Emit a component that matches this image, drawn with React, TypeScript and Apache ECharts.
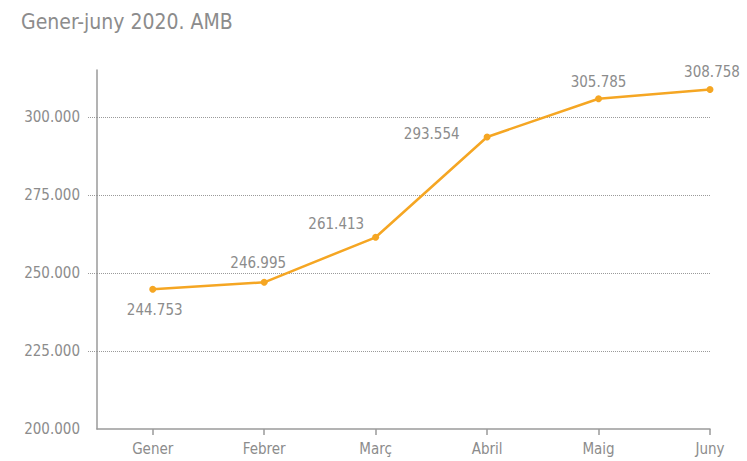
import React, { useEffect, useRef } from "react";
import * as echarts from "echarts";

const title = "Gener-juny 2020. AMB";
const categories = ["Gener", "Febrer", "Març", "Abril", "Maig", "Juny"];
const values = [244753, 246995, 261413, 293554, 305785, 308758];
const yLabelValues = [200000, 225000, 250000, 275000, 300000];
const yTickValues = [225000, 250000, 275000, 300000];

const FONT = "'Liberation Sans Narrow', 'DejaVu Sans Condensed', 'Roboto', sans-serif";

function fmt(v: number): string {
  const th = Math.floor(v / 1000);
  const rest = String(Math.round(v % 1000)).padStart(3, "0");
  return th + "." + rest;
}

const labelPlacement: any[] = [
  { position: "bottom", distance: 10, offset: [2, 0] },
  { position: "top", distance: 8, offset: [-6, 0] },
  { position: "left", distance: 8, offset: [0, -13] },
  { position: "left", distance: 24, offset: [0, -3] },
  { position: "top", distance: 6, offset: [0, 0] },
  { position: "top", distance: 6, offset: [2, 0] },
];

const gridStyle = { color: "#9a9a9a", type: [1, 1] as any, width: 1 };

export default function App() {
  const ref = useRef<HTMLDivElement>(null);
  useEffect(() => {
    if (!ref.current) return;
    const chart = echarts.init(ref.current, null, { renderer: "svg" });
    chart.setOption({
      animation: false,
      backgroundColor: "#ffffff",
      title: {
        text: title,
        left: 16,
        top: 6,
        textStyle: { fontFamily: FONT, fontSize: 21, fontWeight: "normal", color: "#8c8c8c" },
      },
      grid: { left: 97, right: 37, top: 70, bottom: 32, containLabel: false },
      xAxis: {
        type: "value",
        min: -0.5,
        max: 5,
        splitLine: { show: false },
        axisLine: { show: true, onZero: false, lineStyle: { color: "#9a9a9a", width: 1.5 } },
        axisTick: { show: true, customValues: [0, 1, 2, 3, 4, 5], length: 6, lineStyle: { color: "#9a9a9a", width: 1.5 } },
        axisLabel: {
          customValues: [0, 1, 2, 3, 4, 5],
          formatter: (v: number) => categories[Math.round(v)] ?? "",
          color: "#8c8c8c",
          fontFamily: FONT,
          fontSize: 15,
          margin: 12,
        },
      },
      yAxis: {
        type: "value",
        min: 200000,
        max: 315000,
        interval: 25000,
        axisLine: { show: true, onZero: false, lineStyle: { color: "#9a9a9a", width: 1.5 } },
        axisTick: { show: true, customValues: yTickValues, length: 9, lineStyle: gridStyle },
        splitLine: { show: true, interval: 0, lineStyle: gridStyle },
        axisLabel: {
          customValues: yLabelValues,
          formatter: (v: number) => fmt(v),
          color: "#8c8c8c",
          fontFamily: FONT,
          fontSize: 15,
          margin: 17,
        },
      },
      series: [
        {
          type: "line",
          data: values.map((v, i) => ({
            value: [i, v],
            label: {
              show: true,
              formatter: fmt(v),
              position: labelPlacement[i].position,
              distance: labelPlacement[i].distance,
              offset: labelPlacement[i].offset,
              color: "#8c8c8c",
              fontFamily: FONT,
              fontSize: 15,
            },
          })),
          symbol: "circle",
          symbolSize: 7,
          lineStyle: { color: "#f5a623", width: 2.5 },
          itemStyle: { color: "#f5a623" },
        },
      ],
    });
    return () => chart.dispose();
  }, []);
  return <div ref={ref} style={{ position: "fixed", left: 0, top: 0, width: 747, height: 461 }} />;
}
